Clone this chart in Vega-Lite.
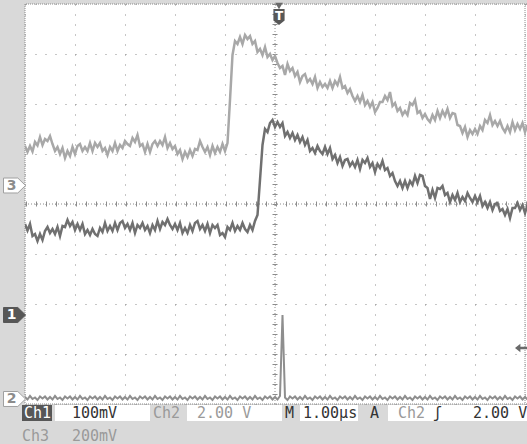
{
  "$schema": "https://vega.github.io/schema/vega-lite/v6.json",
  "width": 502,
  "height": 400,
  "autosize": {"type": "none"},
  "padding": {"left": 25, "top": 4, "right": 0, "bottom": 40},
  "background": "#d9d9d9",
  "config": {
    "view": {"fill": "white", "stroke": null},
    "axis": {"domain": false, "ticks": false, "labels": false, "grid": true, "gridColor": "#8c8c8c", "gridDash": [1, 9], "gridWidth": 1},
    "axisX": {"tickCount": 10},
    "axisY": {"tickCount": 8}
  },
  "datasets": {
    "trace": [
      {"t":-5,"c3":1.16,"c1":-0.40,"c2":-3.86},
      {"t":-4.95,"c3":1.04,"c1":-0.53,"c2":-3.91},
      {"t":-4.9,"c3":1.16,"c1":-0.40,"c2":-3.84},
      {"t":-4.85,"c3":1.05,"c1":-0.64,"c2":-3.90},
      {"t":-4.8,"c3":1.24,"c1":-0.60,"c2":-3.87},
      {"t":-4.75,"c3":1.17,"c1":-0.74,"c2":-3.92},
      {"t":-4.7,"c3":1.34,"c1":-0.60,"c2":-3.85},
      {"t":-4.65,"c3":1.18,"c1":-0.72,"c2":-3.89},
      {"t":-4.6,"c3":1.30,"c1":-0.54,"c2":-3.85},
      {"t":-4.55,"c3":1.26,"c1":-0.46,"c2":-3.91},
      {"t":-4.5,"c3":1.36,"c1":-0.58,"c2":-3.86},
      {"t":-4.45,"c3":1.20,"c1":-0.50,"c2":-3.91},
      {"t":-4.4,"c3":1.06,"c1":-0.60,"c2":-3.84},
      {"t":-4.35,"c3":1.14,"c1":-0.46,"c2":-3.90},
      {"t":-4.3,"c3":1.00,"c1":-0.64,"c2":-3.87},
      {"t":-4.25,"c3":1.12,"c1":-0.44,"c2":-3.92},
      {"t":-4.2,"c3":0.92,"c1":-0.46,"c2":-3.85},
      {"t":-4.15,"c3":1.06,"c1":-0.32,"c2":-3.89},
      {"t":-4.1,"c3":0.96,"c1":-0.44,"c2":-3.85},
      {"t":-4.05,"c3":1.14,"c1":-0.36,"c2":-3.91},
      {"t":-4.0,"c3":1.00,"c1":-0.52,"c2":-3.86},
      {"t":-3.95,"c3":1.16,"c1":-0.40,"c2":-3.91},
      {"t":-3.9,"c3":1.20,"c1":-0.52,"c2":-3.84},
      {"t":-3.85,"c3":1.06,"c1":-0.40,"c2":-3.90},
      {"t":-3.8,"c3":1.14,"c1":-0.60,"c2":-3.87},
      {"t":-3.75,"c3":1.06,"c1":-0.52,"c2":-3.92},
      {"t":-3.7,"c3":1.22,"c1":-0.62,"c2":-3.85},
      {"t":-3.65,"c3":1.06,"c1":-0.50,"c2":-3.89},
      {"t":-3.6,"c3":1.22,"c1":-0.60,"c2":-3.85},
      {"t":-3.55,"c3":1.14,"c1":-0.64,"c2":-3.91},
      {"t":-3.5,"c3":1.22,"c1":-0.48,"c2":-3.86},
      {"t":-3.45,"c3":1.06,"c1":-0.56,"c2":-3.91},
      {"t":-3.4,"c3":1.12,"c1":-0.38,"c2":-3.84},
      {"t":-3.35,"c3":0.98,"c1":-0.54,"c2":-3.90},
      {"t":-3.3,"c3":1.14,"c1":-0.44,"c2":-3.87},
      {"t":-3.25,"c3":1.06,"c1":-0.54,"c2":-3.92},
      {"t":-3.2,"c3":1.22,"c1":-0.38,"c2":-3.85},
      {"t":-3.15,"c3":1.06,"c1":-0.52,"c2":-3.89},
      {"t":-3.1,"c3":1.18,"c1":-0.38,"c2":-3.85},
      {"t":-3.05,"c3":1.12,"c1":-0.34,"c2":-3.91},
      {"t":-3.0,"c3":1.26,"c1":-0.48,"c2":-3.86},
      {"t":-2.95,"c3":1.20,"c1":-0.40,"c2":-3.91},
      {"t":-2.9,"c3":1.16,"c1":-0.52,"c2":-3.84},
      {"t":-2.85,"c3":1.32,"c1":-0.38,"c2":-3.90},
      {"t":-2.8,"c3":1.24,"c1":-0.58,"c2":-3.87},
      {"t":-2.75,"c3":1.38,"c1":-0.42,"c2":-3.92},
      {"t":-2.7,"c3":1.16,"c1":-0.48,"c2":-3.85},
      {"t":-2.65,"c3":1.20,"c1":-0.38,"c2":-3.89},
      {"t":-2.6,"c3":1.04,"c1":-0.52,"c2":-3.85},
      {"t":-2.55,"c3":1.20,"c1":-0.44,"c2":-3.91},
      {"t":-2.5,"c3":1.04,"c1":-0.58,"c2":-3.86},
      {"t":-2.45,"c3":1.20,"c1":-0.42,"c2":-3.91},
      {"t":-2.4,"c3":1.26,"c1":-0.52,"c2":-3.84},
      {"t":-2.35,"c3":1.16,"c1":-0.34,"c2":-3.90},
      {"t":-2.3,"c3":1.26,"c1":-0.50,"c2":-3.87},
      {"t":-2.25,"c3":1.18,"c1":-0.36,"c2":-3.92},
      {"t":-2.2,"c3":1.34,"c1":-0.42,"c2":-3.85},
      {"t":-2.15,"c3":1.12,"c1":-0.30,"c2":-3.89},
      {"t":-2.1,"c3":1.22,"c1":-0.42,"c2":-3.85},
      {"t":-2.05,"c3":1.10,"c1":-0.50,"c2":-3.91},
      {"t":-2.0,"c3":1.16,"c1":-0.40,"c2":-3.86},
      {"t":-1.95,"c3":1.00,"c1":-0.52,"c2":-3.91},
      {"t":-1.9,"c3":1.08,"c1":-0.38,"c2":-3.84},
      {"t":-1.85,"c3":0.90,"c1":-0.58,"c2":-3.90},
      {"t":-1.8,"c3":1.04,"c1":-0.48,"c2":-3.87},
      {"t":-1.75,"c3":0.94,"c1":-0.58,"c2":-3.92},
      {"t":-1.7,"c3":1.08,"c1":-0.42,"c2":-3.85},
      {"t":-1.65,"c3":0.96,"c1":-0.54,"c2":-3.89},
      {"t":-1.6,"c3":1.10,"c1":-0.38,"c2":-3.85},
      {"t":-1.55,"c3":1.08,"c1":-0.34,"c2":-3.91},
      {"t":-1.5,"c3":1.26,"c1":-0.50,"c2":-3.86},
      {"t":-1.45,"c3":1.14,"c1":-0.42,"c2":-3.91},
      {"t":-1.4,"c3":1.04,"c1":-0.54,"c2":-3.84},
      {"t":-1.35,"c3":1.14,"c1":-0.40,"c2":-3.90},
      {"t":-1.3,"c3":0.98,"c1":-0.58,"c2":-3.87},
      {"t":-1.25,"c3":1.16,"c1":-0.42,"c2":-3.92},
      {"t":-1.2,"c3":1.02,"c1":-0.48,"c2":-3.85},
      {"t":-1.15,"c3":1.14,"c1":-0.42,"c2":-3.89},
      {"t":-1.1,"c3":1.04,"c1":-0.62,"c2":-3.85},
      {"t":-1.05,"c3":1.20,"c1":-0.58,"c2":-3.91},
      {"t":-1.0,"c3":1.06,"c1":-0.66,"c2":-3.86},
      {"t":-0.95,"c3":1.22,"c1":-0.46,"c2":-3.91},
      {"t":-0.9,"c3":2.08,"c1":-0.52,"c2":-3.84},
      {"t":-0.85,"c3":2.98,"c1":-0.38,"c2":-3.90},
      {"t":-0.8,"c3":3.26,"c1":-0.54,"c2":-3.87},
      {"t":-0.75,"c3":3.20,"c1":-0.44,"c2":-3.92},
      {"t":-0.7,"c3":3.34,"c1":-0.52,"c2":-3.85},
      {"t":-0.65,"c3":3.20,"c1":-0.38,"c2":-3.89},
      {"t":-0.6,"c3":3.38,"c1":-0.50,"c2":-3.85},
      {"t":-0.55,"c3":3.30,"c1":-0.56,"c2":-3.91},
      {"t":-0.5,"c3":3.36,"c1":-0.42,"c2":-3.86},
      {"t":-0.45,"c3":3.20,"c1":-0.52,"c2":-3.91},
      {"t":-0.4,"c3":3.26,"c1":-0.34,"c2":-3.84},
      {"t":-0.35,"c3":3.04,"c1":-0.22,"c2":-3.90},
      {"t":-0.3,"c3":3.10,"c1":0.48,"c2":-3.87},
      {"t":-0.25,"c3":2.98,"c1":1.18,"c2":-3.92},
      {"t":-0.2,"c3":3.14,"c1":1.50,"c2":-3.85},
      {"t":-0.15,"c3":2.94,"c1":1.44,"c2":-3.89},
      {"t":-0.1,"c3":3.00,"c1":1.62,"c2":-3.85},
      {"t":-0.05,"c3":2.88,"c1":1.68,"c2":-3.91},
      {"t":0,"c3":2.96,"c1":1.54,"c2":-3.86},
      {"t":0.05,"c3":2.82,"c1":1.64,"c2":-3.91},
      {"t":0.1,"c3":2.72,"c1":1.54,"c2":-3.84},
      {"t":0.15,"c3":2.76,"c1":1.62,"c2":-2.22},
      {"t":0.2,"c3":2.58,"c1":1.36,"c2":-3.87},
      {"t":0.25,"c3":2.80,"c1":1.44,"c2":-3.92},
      {"t":0.3,"c3":2.66,"c1":1.32,"c2":-3.85},
      {"t":0.35,"c3":2.72,"c1":1.42,"c2":-3.89},
      {"t":0.4,"c3":2.56,"c1":1.28,"c2":-3.85},
      {"t":0.45,"c3":2.64,"c1":1.38,"c2":-3.91},
      {"t":0.5,"c3":2.44,"c1":1.24,"c2":-3.86},
      {"t":0.55,"c3":2.56,"c1":1.34,"c2":-3.91},
      {"t":0.6,"c3":2.60,"c1":1.18,"c2":-3.84},
      {"t":0.65,"c3":2.44,"c1":1.28,"c2":-3.90},
      {"t":0.7,"c3":2.50,"c1":1.06,"c2":-3.87},
      {"t":0.75,"c3":2.40,"c1":1.12,"c2":-3.92},
      {"t":0.8,"c3":2.54,"c1":1.02,"c2":-3.85},
      {"t":0.85,"c3":2.32,"c1":1.16,"c2":-3.89},
      {"t":0.9,"c3":2.44,"c1":1.06,"c2":-3.85},
      {"t":0.95,"c3":2.34,"c1":1.00,"c2":-3.91},
      {"t":1.0,"c3":2.40,"c1":1.14,"c2":-3.86},
      {"t":1.05,"c3":2.32,"c1":1.00,"c2":-3.91},
      {"t":1.1,"c3":2.46,"c1":1.12,"c2":-3.84},
      {"t":1.15,"c3":2.32,"c1":0.90,"c2":-3.90},
      {"t":1.2,"c3":2.46,"c1":0.98,"c2":-3.87},
      {"t":1.25,"c3":2.38,"c1":0.82,"c2":-3.92},
      {"t":1.3,"c3":2.54,"c1":0.94,"c2":-3.85},
      {"t":1.35,"c3":2.32,"c1":0.76,"c2":-3.89},
      {"t":1.4,"c3":2.36,"c1":0.88,"c2":-3.85},
      {"t":1.45,"c3":2.22,"c1":0.90,"c2":-3.91},
      {"t":1.5,"c3":2.30,"c1":0.76,"c2":-3.86},
      {"t":1.55,"c3":2.16,"c1":0.84,"c2":-3.91},
      {"t":1.6,"c3":2.06,"c1":0.74,"c2":-3.84},
      {"t":1.65,"c3":2.16,"c1":0.88,"c2":-3.90},
      {"t":1.7,"c3":2.04,"c1":0.70,"c2":-3.87},
      {"t":1.75,"c3":2.18,"c1":0.88,"c2":-3.92},
      {"t":1.8,"c3":1.98,"c1":0.82,"c2":-3.85},
      {"t":1.85,"c3":2.06,"c1":0.92,"c2":-3.89},
      {"t":1.9,"c3":1.94,"c1":0.74,"c2":-3.85},
      {"t":1.95,"c3":2.04,"c1":0.82,"c2":-3.91},
      {"t":2.0,"c3":1.84,"c1":0.64,"c2":-3.86},
      {"t":2.05,"c3":1.92,"c1":0.80,"c2":-3.91},
      {"t":2.1,"c3":2.04,"c1":0.72,"c2":-3.84},
      {"t":2.15,"c3":2.04,"c1":0.86,"c2":-3.90},
      {"t":2.2,"c3":2.16,"c1":0.68,"c2":-3.87},
      {"t":2.25,"c3":2.08,"c1":0.72,"c2":-3.92},
      {"t":2.3,"c3":2.24,"c1":0.56,"c2":-3.85},
      {"t":2.35,"c3":1.96,"c1":0.62,"c2":-3.89},
      {"t":2.4,"c3":2.02,"c1":0.46,"c2":-3.85},
      {"t":2.45,"c3":1.86,"c1":0.36,"c2":-3.91},
      {"t":2.5,"c3":1.92,"c1":0.46,"c2":-3.86},
      {"t":2.55,"c3":1.78,"c1":0.32,"c2":-3.91},
      {"t":2.6,"c3":1.86,"c1":0.46,"c2":-3.84},
      {"t":2.65,"c3":1.78,"c1":0.32,"c2":-3.90},
      {"t":2.7,"c3":2.02,"c1":0.46,"c2":-3.87},
      {"t":2.75,"c3":1.98,"c1":0.38,"c2":-3.92},
      {"t":2.8,"c3":2.08,"c1":0.56,"c2":-3.85},
      {"t":2.85,"c3":1.82,"c1":0.42,"c2":-3.89},
      {"t":2.9,"c3":1.86,"c1":0.58,"c2":-3.85},
      {"t":2.95,"c3":1.72,"c1":0.56,"c2":-3.91},
      {"t":3.0,"c3":1.80,"c1":0.36,"c2":-3.86},
      {"t":3.05,"c3":1.70,"c1":0.32,"c2":-3.91},
      {"t":3.1,"c3":1.64,"c1":0.10,"c2":-3.84},
      {"t":3.15,"c3":1.78,"c1":0.28,"c2":-3.90},
      {"t":3.2,"c3":1.68,"c1":0.12,"c2":-3.87},
      {"t":3.25,"c3":1.86,"c1":0.32,"c2":-3.92},
      {"t":3.3,"c3":1.72,"c1":0.30,"c2":-3.85},
      {"t":3.35,"c3":1.86,"c1":0.36,"c2":-3.89},
      {"t":3.4,"c3":1.76,"c1":0.18,"c2":-3.85},
      {"t":3.45,"c3":1.90,"c1":0.22,"c2":-3.91},
      {"t":3.5,"c3":1.72,"c1":0.04,"c2":-3.86},
      {"t":3.55,"c3":1.82,"c1":0.18,"c2":-3.91},
      {"t":3.6,"c3":1.80,"c1":0.08,"c2":-3.84},
      {"t":3.65,"c3":1.58,"c1":0.22,"c2":-3.90},
      {"t":3.7,"c3":1.56,"c1":0.04,"c2":-3.87},
      {"t":3.75,"c3":1.42,"c1":0.14,"c2":-3.92},
      {"t":3.8,"c3":1.54,"c1":0.06,"c2":-3.85},
      {"t":3.85,"c3":1.34,"c1":0.22,"c2":-3.89},
      {"t":3.9,"c3":1.48,"c1":0.12,"c2":-3.85},
      {"t":3.95,"c3":1.40,"c1":0.04,"c2":-3.91},
      {"t":4.0,"c3":1.50,"c1":0.16,"c2":-3.86},
      {"t":4.05,"c3":1.40,"c1":0.04,"c2":-3.91},
      {"t":4.1,"c3":1.56,"c1":0.16,"c2":-3.84},
      {"t":4.15,"c3":1.48,"c1":-0.04,"c2":-3.90},
      {"t":4.2,"c3":1.68,"c1":0.04,"c2":-3.87},
      {"t":4.25,"c3":1.62,"c1":-0.08,"c2":-3.92},
      {"t":4.3,"c3":1.78,"c1":0.04,"c2":-3.85},
      {"t":4.35,"c3":1.58,"c1":-0.12,"c2":-3.89},
      {"t":4.4,"c3":1.66,"c1":0.00,"c2":-3.85},
      {"t":4.45,"c3":1.56,"c1":0.02,"c2":-3.91},
      {"t":4.5,"c3":1.66,"c1":-0.14,"c2":-3.86},
      {"t":4.55,"c3":1.52,"c1":-0.10,"c2":-3.91},
      {"t":4.6,"c3":1.44,"c1":-0.22,"c2":-3.84},
      {"t":4.65,"c3":1.56,"c1":-0.10,"c2":-3.90},
      {"t":4.7,"c3":1.44,"c1":-0.28,"c2":-3.87},
      {"t":4.75,"c3":1.64,"c1":-0.08,"c2":-3.92},
      {"t":4.8,"c3":1.48,"c1":-0.08,"c2":-3.85},
      {"t":4.85,"c3":1.60,"c1":0.02,"c2":-3.89},
      {"t":4.9,"c3":1.50,"c1":-0.12,"c2":-3.85},
      {"t":4.95,"c3":1.62,"c1":-0.02,"c2":-3.91},
      {"t":5.0,"c3":1.44,"c1":-0.18,"c2":-3.86},
      {"t":5.05,"c3":1.58,"c1":-0.02,"c2":-3.91}
    ],
    "markers": [
      {"label": "3", "t": -5.21, "v": 0.37, "selected": false},
      {"label": "1", "t": -5.21, "v": -2.22, "selected": true},
      {"label": "2", "t": -5.21, "v": -3.9, "selected": false}
    ],
    "trigger": [{"label": "T", "t": 0.08, "v": 3.74}],
    "level": [{"t": 4.92, "v": -2.88}],
    "boxes": [
      {"t1": -5.06, "t2": -4.46, "selected": true},
      {"t1": -4.40, "t2": -2.50, "selected": false},
      {"t1": -1.76, "t2": 0.14, "selected": false},
      {"t1": 0.50, "t2": 1.66, "selected": false},
      {"t1": 2.26, "t2": 5.1, "selected": false}
    ],
    "status": [
      {"label": "Ch1", "t": -5.02, "v": -4.18, "tone": "sel"},
      {"label": "100mV", "t": -4.06, "v": -4.18, "tone": "on"},
      {"label": "Ch2", "t": -2.44, "v": -4.18, "tone": "dim"},
      {"label": "2.00 V", "t": -1.56, "v": -4.18, "tone": "dim"},
      {"label": "M", "t": 0.20, "v": -4.18, "tone": "on"},
      {"label": "1.00µs", "t": 0.56, "v": -4.18, "tone": "on"},
      {"label": "A", "t": 1.90, "v": -4.18, "tone": "on"},
      {"label": "Ch2", "t": 2.46, "v": -4.18, "tone": "dim"},
      {"label": "ʃ", "t": 3.16, "v": -4.18, "tone": "on"},
      {"label": "2.00 V", "t": 3.96, "v": -4.18, "tone": "on"},
      {"label": "Ch3", "t": -5.06, "v": -4.64, "tone": "dim"},
      {"label": "200mV", "t": -4.06, "v": -4.64, "tone": "dim"}
    ]
  },
  "layer": [
    {
      "data": {"values": [{}]},
      "mark": {"type": "rule", "color": "#8c8c8c", "strokeDash": [1, 2], "strokeWidth": 1},
      "encoding": {
        "y": {"datum": 0, "type": "quantitative", "scale": {"domain": [-4, 4], "nice": false, "zero": false}, "title": null}
      }
    },
    {
      "data": {"values": [{}]},
      "mark": {"type": "rule", "color": "#8c8c8c", "strokeDash": [1, 9], "strokeWidth": 5},
      "encoding": {"y": {"datum": 0}}
    },
    {
      "data": {"values": [{}]},
      "mark": {"type": "rule", "color": "#8c8c8c", "strokeDash": [1, 2], "strokeWidth": 1},
      "encoding": {
        "x": {"datum": 0, "type": "quantitative", "scale": {"domain": [-5, 5.04], "nice": false, "zero": false}, "title": null}
      }
    },
    {
      "data": {"values": [{}]},
      "mark": {"type": "rule", "color": "#8c8c8c", "strokeDash": [1, 9], "strokeWidth": 5},
      "encoding": {"x": {"datum": 0}}
    },
    {
      "data": {"values": [{}]},
      "mark": {"type": "rule", "color": "#8c8c8c", "strokeDash": [1, 1], "strokeWidth": 1},
      "encoding": {"y": {"datum": 4}}
    },
    {
      "data": {"values": [{}]},
      "mark": {"type": "rule", "color": "#8c8c8c", "strokeDash": [1, 1], "strokeWidth": 1},
      "encoding": {"y": {"datum": -4}}
    },
    {
      "data": {"values": [{}]},
      "mark": {"type": "rule", "color": "#8c8c8c", "strokeDash": [1, 1], "strokeWidth": 1},
      "encoding": {"x": {"datum": -5}}
    },
    {
      "data": {"values": [{}]},
      "mark": {"type": "rule", "color": "#8c8c8c", "strokeDash": [1, 1], "strokeWidth": 1},
      "encoding": {"x": {"datum": 5}}
    },
    {
      "data": {"name": "trace"},
      "mark": {"type": "line", "color": "#a8a8a8", "strokeWidth": 2.5, "clip": true},
      "encoding": {
        "x": {"field": "t", "type": "quantitative", "title": null},
        "y": {"field": "c3", "type": "quantitative", "title": null}
      }
    },
    {
      "data": {"name": "trace"},
      "mark": {"type": "line", "color": "#707070", "strokeWidth": 2.5, "clip": true},
      "encoding": {
        "x": {"field": "t", "type": "quantitative", "title": null},
        "y": {"field": "c1", "type": "quantitative", "title": null}
      }
    },
    {
      "data": {"name": "trace"},
      "mark": {"type": "line", "color": "#8e8e8e", "strokeWidth": 2, "clip": true},
      "encoding": {
        "x": {"field": "t", "type": "quantitative", "title": null},
        "y": {"field": "c2", "type": "quantitative", "title": null}
      }
    },
    {
      "data": {"name": "markers"},
      "mark": {"type": "point", "shape": "M-1,-0.68L0.3,-0.68L1,0L0.3,0.68L-1,0.68Z", "size": 484, "filled": true, "strokeWidth": 1, "opacity": 1, "clip": false},
      "encoding": {
        "x": {"field": "t", "type": "quantitative", "title": null},
        "y": {"field": "v", "type": "quantitative", "title": null},
        "fill": {"condition": {"test": "datum.selected", "value": "#575757"}, "value": "#ffffff"},
        "stroke": {"condition": {"test": "datum.selected", "value": "#575757"}, "value": "#a0a0a0"}
      }
    },
    {
      "data": {"name": "markers"},
      "mark": {"type": "text", "font": "DejaVu Sans", "fontSize": 14, "fontWeight": "bold", "dx": -3, "baseline": "middle", "clip": false},
      "encoding": {
        "x": {"field": "t", "type": "quantitative", "title": null},
        "y": {"field": "v", "type": "quantitative", "title": null},
        "text": {"field": "label"},
        "color": {"condition": {"test": "datum.selected", "value": "#ffffff"}, "value": "#8c8c8c"}
      }
    },
    {
      "data": {"name": "trigger"},
      "mark": {"type": "point", "shape": "triangle-down", "size": 60, "filled": true, "color": "#6a6a6a", "opacity": 1, "yOffset": -11, "clip": false},
      "encoding": {
        "x": {"field": "t", "type": "quantitative", "title": null},
        "y": {"field": "v", "type": "quantitative", "title": null}
      }
    },
    {
      "data": {"name": "trigger"},
      "mark": {"type": "point", "shape": "M-0.7,-1L0.7,-1L0.7,0.45L0,1L-0.7,0.45Z", "size": 256, "filled": true, "color": "#575757", "opacity": 1, "clip": false},
      "encoding": {
        "x": {"field": "t", "type": "quantitative", "title": null},
        "y": {"field": "v", "type": "quantitative", "title": null}
      }
    },
    {
      "data": {"name": "trigger"},
      "mark": {"type": "text", "font": "DejaVu Sans", "fontSize": 12, "fontWeight": "bold", "color": "#ffffff", "baseline": "middle", "dy": -1, "clip": false},
      "encoding": {
        "x": {"field": "t", "type": "quantitative", "title": null},
        "y": {"field": "v", "type": "quantitative", "title": null},
        "text": {"field": "label"}
      }
    },
    {
      "data": {"name": "level"},
      "mark": {"type": "point", "shape": "M-1,0L-0.1,-0.7L-0.1,-0.2L1,-0.2L1,0.2L-0.1,0.2L-0.1,0.7Z", "size": 144, "filled": true, "color": "#6a6a6a", "opacity": 1, "clip": false},
      "encoding": {
        "x": {"field": "t", "type": "quantitative", "title": null},
        "y": {"field": "v", "type": "quantitative", "title": null}
      }
    },
    {
      "data": {"name": "boxes"},
      "mark": {"type": "rect", "clip": false},
      "encoding": {
        "x": {"field": "t1", "type": "quantitative", "title": null},
        "x2": {"field": "t2"},
        "y": {"datum": -4.02},
        "y2": {"datum": -4.34},
        "fill": {"condition": {"test": "datum.selected", "value": "#575757"}, "value": "#ffffff"}
      }
    },
    {
      "data": {"name": "status"},
      "mark": {"type": "text", "font": "DejaVu Sans Mono", "fontSize": 15, "align": "left", "baseline": "middle", "clip": false},
      "encoding": {
        "x": {"field": "t", "type": "quantitative", "title": null},
        "y": {"field": "v", "type": "quantitative", "title": null},
        "text": {"field": "label"},
        "color": {"condition": [{"test": "datum.tone == 'sel'", "value": "#ffffff"}, {"test": "datum.tone == 'dim'", "value": "#9a9a9a"}], "value": "#333333"}
      }
    }
  ]
}
